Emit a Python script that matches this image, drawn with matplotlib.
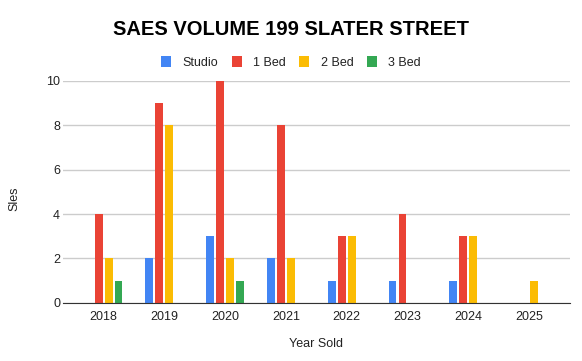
import numpy as np
from matplotlib import pyplot as plt

years = ["2018", "2019", "2020", "2021", "2022", "2023", "2024", "2025"]
studio = [0, 2, 3, 2, 1, 1, 1, 0]
one_bed = [4, 9, 10, 8, 3, 4, 3, 0]
two_bed = [2, 8, 2, 2, 3, 0, 3, 1]
three_bed = [1, 0, 1, 0, 0, 0, 0, 0]

series = [
    ("Studio", studio, "#4285F4"),
    ("1 Bed", one_bed, "#EA4335"),
    ("2 Bed", two_bed, "#FBBC04"),
    ("3 Bed", three_bed, "#34A853"),
]

plt.rcParams["font.family"] = ["Liberation Sans", "DejaVu Sans"]

fig = plt.figure(figsize=(5.82, 3.61), dpi=100)
ax = fig.add_axes([0.108, 0.161, 0.871, 0.615])

x = np.arange(len(years))
step = 0.164
width = 0.13

for i, (name, values, color) in enumerate(series):
    ax.bar(x + (i - 1.5) * step, values, width=width, color=color,
           label=name, clip_on=False, zorder=3)

ax.set_xlim(-0.67, 7.67)
ax.set_ylim(0, 10)
ax.set_yticks(range(0, 11, 2))
ax.set_xticks(x)
ax.set_xticklabels(years)

ax.grid(axis="y", color="#cccccc", linewidth=1, zorder=0)
for side in ["top", "right", "left"]:
    ax.spines[side].set_visible(False)
ax.spines["bottom"].set_color("#333333")
ax.spines["bottom"].set_zorder(4)
ax.tick_params(length=0, labelsize=9, colors="#222222")
ax.tick_params(axis="x", pad=6)
ax.tick_params(axis="y", pad=2)

ax.set_xlabel("Year Sold", fontsize=9, color="#222222", labelpad=11)
ax.set_ylabel("Sles", fontsize=9, color="#222222")
ax.yaxis.set_label_coords(-0.084, 0.47)

fig.suptitle("SAES VOLUME 199 SLATER STREET", fontsize=14.5, fontweight="bold",
             y=0.945, color="#000000")
fig.legend(loc="center", bbox_to_anchor=(0.5, 0.828), ncol=4, frameon=False,
           fontsize=9, handlelength=0.8, handleheight=1.0, columnspacing=1.1,
           handletextpad=0.9, labelcolor="#222222")

plt.savefig("out.png", dpi=100)
